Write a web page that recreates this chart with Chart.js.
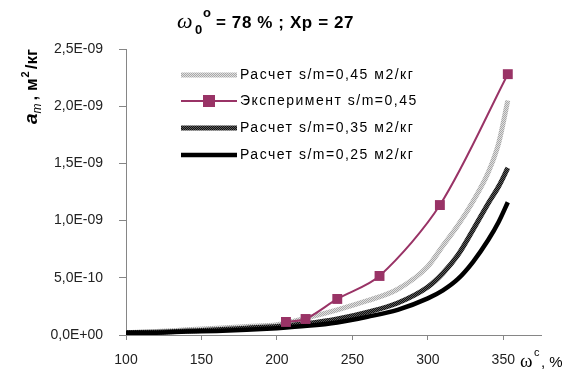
<!DOCTYPE html>
<html>
<head>
<meta charset="utf-8">
<script src="https://cdn.jsdelivr.net/npm/chart.js@4.4.1/dist/chart.umd.min.js"></script>
<style>
  html, body { margin:0; padding:0; background:#fff; }
  #wrap { width:569px; height:370px; }
</style>
</head>
<body>
<div id="wrap"><canvas id="chart" width="569" height="370"></canvas></div>
<script>
// values on the y axis are in units of 1E-09 m2/kg
const calcX   = [100, 120, 140, 160, 180, 200, 220, 240, 260, 280, 300, 310, 320, 330, 340, 347, 353];
const calc045 = [0.02, 0.03, 0.045, 0.06, 0.075, 0.09, 0.15, 0.22, 0.30, 0.40, 0.60, 0.78, 0.96, 1.17, 1.42, 1.68, 2.05];
const calc035 = [0.02, 0.025, 0.035, 0.045, 0.06, 0.075, 0.10, 0.14, 0.20, 0.28, 0.42, 0.54, 0.70, 0.92, 1.15, 1.30, 1.46];
const calc025 = [0.02, 0.02, 0.03, 0.035, 0.045, 0.06, 0.08, 0.11, 0.16, 0.22, 0.32, 0.39, 0.49, 0.64, 0.83, 0.99, 1.16];
const expX    = [206, 219, 240, 268, 308, 353];
const expY    = [0.114, 0.14, 0.315, 0.516, 1.136, 2.28];
const xTicks  = [100, 150, 200, 250, 300, 350];
const yTicks  = [0, 0.5, 1.0, 1.5, 2.0, 2.5];
const labels  = ['Расчет s/m=0,45 м2/кг', 'Эксперимент s/m=0,45', 'Расчет s/m=0,35 м2/кг', 'Расчет s/m=0,25 м2/кг'];

const AXIS = '#868686';
const PLUM = '#993366';

// dithered stroke like the excel pattern lines
function dither(c1, c2) {
    const p = document.createElement('canvas');
    p.width = 2; p.height = 2;
    const g = p.getContext('2d');
    g.fillStyle = c1; g.fillRect(0,0,2,2);
    g.fillStyle = c2; g.fillRect(0,0,1,1); g.fillRect(1,1,1,1);
    return document.getElementById('chart').getContext('2d').createPattern(p, 'repeat');
}
const greyPat = dither('#e0e0e0', '#a8a8a8');
const darkPat = dither('#101010', '#5c5c5c');

const pts = (xs, ys) => xs.map((x, i) => ({x, y: ys[i]}));

function fmtSci(v) {
    if (v === 0) return '0,0E+00';
    const [m, e] = (v * 1e-9).toExponential(1).split('e');
    const n = parseInt(e, 10);
    return m.replace('.', ',') + 'E' + (n < 0 ? '-' : '+') + String(Math.abs(n)).padStart(2, '0');
}

const textPlugin = {
    id: 'texts',
    afterDraw(chart) {
        const ctx = chart.ctx;
        ctx.save();
        ctx.fillStyle = '#000';
        ctx.textBaseline = 'alphabetic';
        ctx.textAlign = 'left';

        // title
        ctx.font = 'italic 22px "Liberation Serif"';
        ctx.fillText('ω', 177, 28);
        ctx.font = 'bold 13px "Liberation Sans"';
        ctx.fillText('0', 195, 34);
        ctx.fillText('o', 203, 17);
        ctx.font = 'bold 17px "Liberation Sans"';
        ctx.letterSpacing = '0.6px';
        ctx.fillText('= 78 % ; Xp = 27', 216, 28);
        ctx.letterSpacing = '0px';

        // y axis title (rotated)
        ctx.save();
        ctx.translate(37, 124);
        ctx.rotate(-Math.PI / 2);
        let x = 0;
        ctx.font = 'bold italic 19px "Liberation Sans"';
        ctx.fillText('a', x, 0); x += ctx.measureText('a').width;
        ctx.font = 'italic 12px "Liberation Sans"';
        ctx.fillText('m', x, 4); x += ctx.measureText('m').width + 3;
        ctx.font = 'bold 17px "Liberation Sans"';
        ctx.fillText(', м', x, 0); x += ctx.measureText(', м').width + 1;
        ctx.font = 'bold 11px "Liberation Sans"';
        ctx.fillText('2', x, -8); x += ctx.measureText('2').width + 2;
        ctx.font = 'bold 17px "Liberation Sans"';
        ctx.fillText('/кг', x, 0);
        ctx.restore();

        // x axis title
        ctx.font = '19px "Liberation Serif"';
        ctx.fillText('ω', 520, 367);
        ctx.font = '11px "Liberation Sans"';
        ctx.fillText('c', 534, 356);
        ctx.font = '15px "Liberation Sans"';
        ctx.fillText(', %', 541, 367);

        // legend
        const rows = [75, 101, 128, 155];
        chart.data.datasets.forEach((ds, i) => {
            const y = rows[i];
            ctx.strokeStyle = ds.borderColor;
            ctx.lineWidth = ds.borderWidth;
            ctx.beginPath(); ctx.moveTo(181, y); ctx.lineTo(237, y); ctx.stroke();
            if (ds.pointRadius > 0) {
                ctx.fillStyle = ds.pointBackgroundColor;
                ctx.fillRect(209 - 6, y - 6, 12, 12);
            }
            ctx.fillStyle = '#000';
            ctx.font = '14px "Liberation Sans"';
            ctx.textBaseline = 'middle';
            ctx.letterSpacing = '1.5px';
            ctx.fillText(labels[i], 240, y);
            ctx.letterSpacing = '0px';
            ctx.textBaseline = 'alphabetic';
        });
        ctx.restore();
    }
};

new Chart(document.getElementById('chart'), {
    type: 'line',
    data: {
        datasets: [
            { label: labels[0], data: pts(calcX, calc045), borderColor: greyPat, borderWidth: 5,
              pointRadius: 0, cubicInterpolationMode: 'monotone', order: 3 },
            { label: labels[1], data: pts(expX, expY), borderColor: PLUM, borderWidth: 2,
              pointStyle: 'rect', pointRadius: 7, pointBackgroundColor: PLUM, pointBorderColor: PLUM,
              pointBorderWidth: 0, tension: 0.3, order: 0 },
            { label: labels[2], data: pts(calcX, calc035), borderColor: darkPat, borderWidth: 5,
              pointRadius: 0, cubicInterpolationMode: 'monotone', order: 2 },
            { label: labels[3], data: pts(calcX, calc025), borderColor: '#000', borderWidth: 4.5,
              pointRadius: 0, cubicInterpolationMode: 'monotone', order: 1 }
        ]
    },
    options: {
        responsive: false,
        animation: false,
        layout: { padding: { top: 49, right: 28, left: 0, bottom: 0 } },
        plugins: { legend: { display: false }, tooltip: { enabled: false }, title: { display: false } },
        scales: {
            x: {
                type: 'linear', min: 100, max: 375,
                afterBuildTicks: s => { s.ticks = xTicks.map(v => ({value: v})); },
                afterFit: s => { s.height = 35; },
                border: { color: AXIS, width: 1 },
                grid: { drawOnChartArea: false, color: AXIS, tickLength: 5 },
                ticks: { color: '#222', font: { family: 'Liberation Sans', size: 14 }, padding: 12, maxRotation: 0 }
            },
            y: {
                min: 0, max: 2.5,
                afterBuildTicks: s => { s.ticks = yTicks.map(v => ({value: v})); },
                afterFit: s => { s.width = 126; },
                border: { color: AXIS, width: 1 },
                grid: { drawOnChartArea: false, color: AXIS, tickLength: 7 },
                ticks: { color: '#222', font: { family: 'Liberation Sans', size: 14 }, padding: 16,
                         callback: v => fmtSci(v) }
            }
        }
    },
    plugins: [textPlugin]
});
</script>
</body>
</html>
